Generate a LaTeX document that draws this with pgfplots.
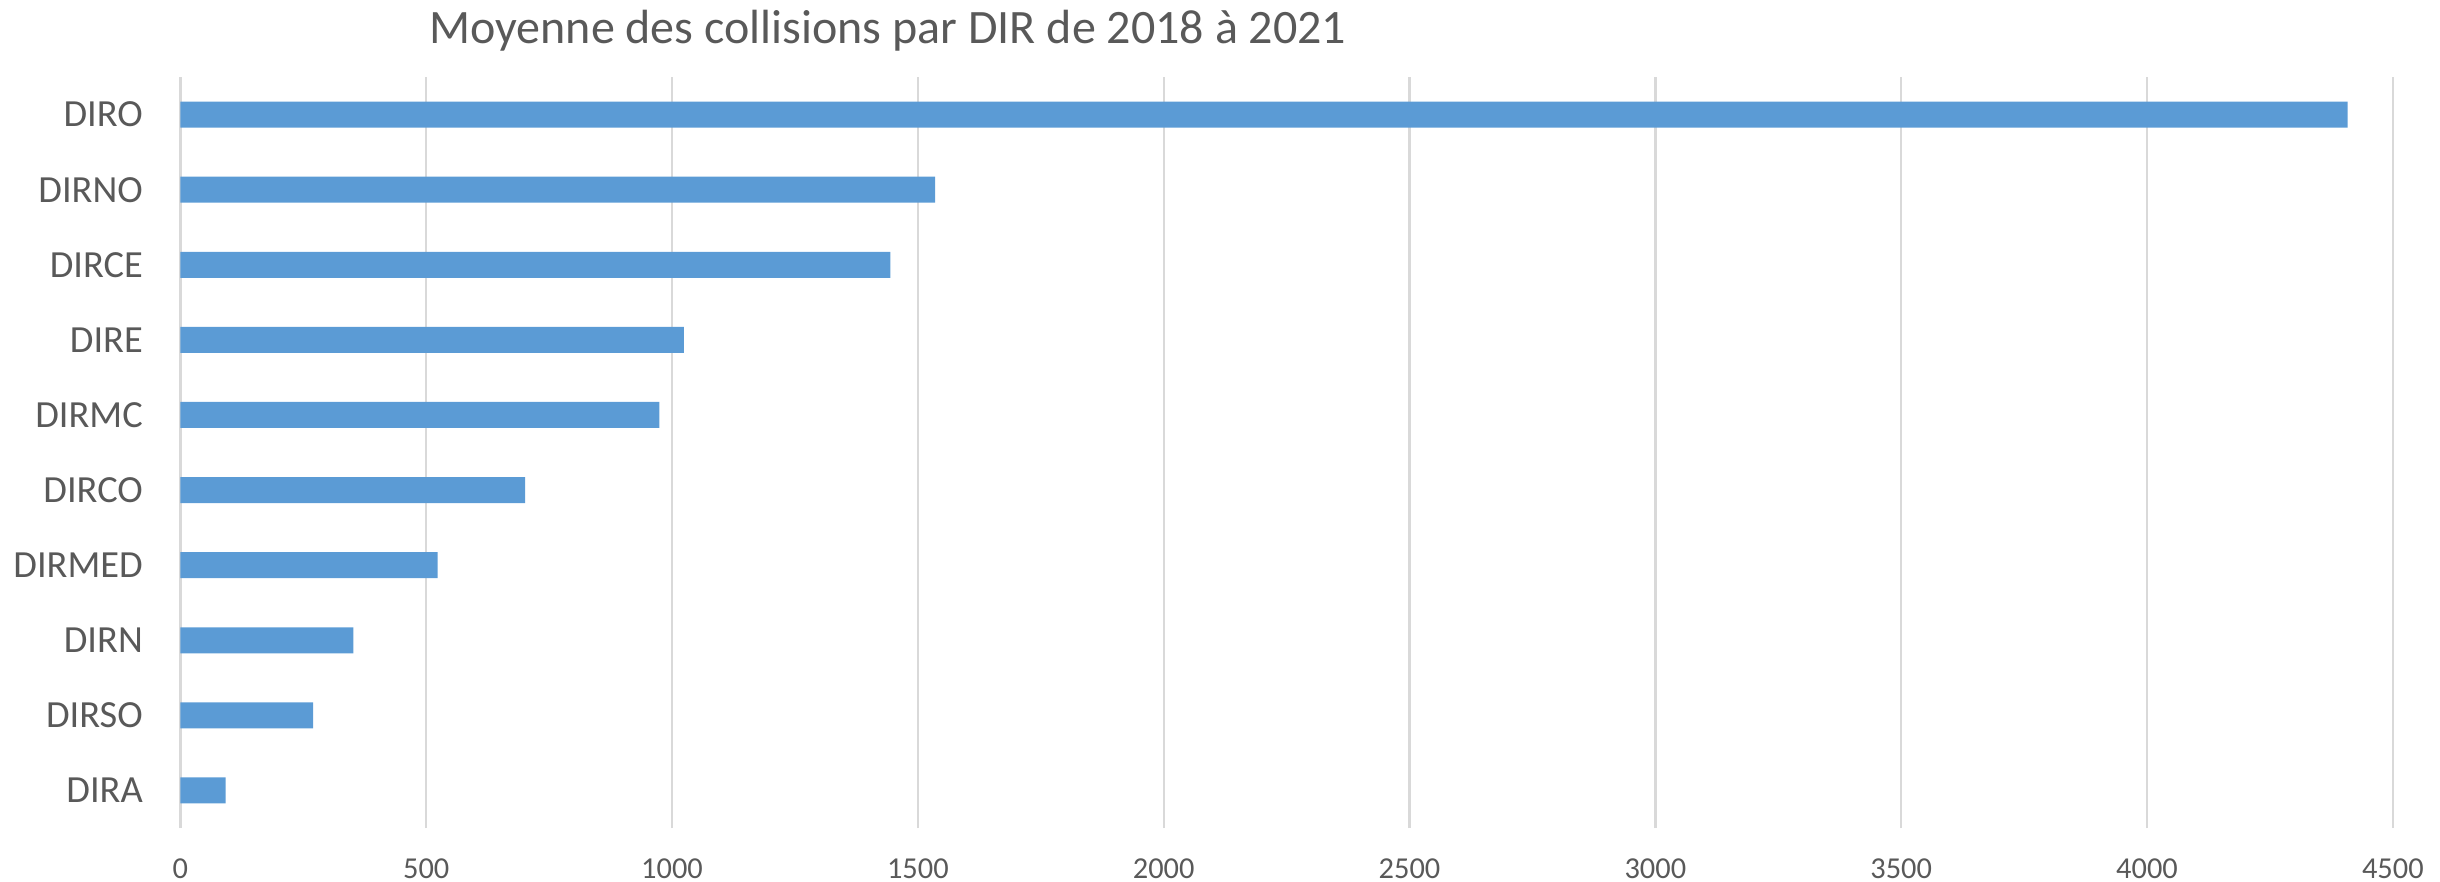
\documentclass[border=0pt]{standalone}
\usepackage{fontspec}
\setmainfont{Carlito}
\usepackage{pgfplots}
\pgfplotsset{compat=1.18}
\definecolor{barblue}{HTML}{5B9BD5}
\definecolor{txtgray}{HTML}{595959}
\definecolor{gridgray}{HTML}{D9D9D9}
\begin{document}
\begin{tikzpicture}
\useasboundingbox (0,0) rectangle (610pt,220.25pt);
\begin{axis}[
  at={(45.1pt,13.25pt)}, anchor=south west,
  scale only axis,
  width=553.1pt, height=187.75pt,
  xbar, bar width=6.5pt,
  xmin=0, xmax=4500,
  ymin=-0.5, ymax=9.5,
  xtick={0,500,...,4500},
  ytick={0,...,9},
  yticklabels={DIRA,DIRSO,DIRN,DIRMED,DIRCO,DIRMC,DIRE,DIRCE,DIRNO,DIRO},
  axis line style={draw=none},
  xmajorgrids, ymajorgrids=false,
  major grid style={draw=gridgray, line width=0.6pt},
  major tick length=0pt,
  /pgf/number format/assume math mode=true,
  /pgf/number format/1000 sep={},
  xticklabel style={font=\fontsize{7.6}{9}\selectfont, text=txtgray, inner sep=0pt, anchor=north, yshift=-7.5pt},
  yticklabel style={font=\fontsize{9.6}{11}\selectfont, text=txtgray, inner sep=0pt, anchor=east, xshift=-9.2pt},
  every axis title shift=0pt,
  title={Moyenne des collisions par DIR de 2018 à 2021},
  title style={at={(0.3198,1)}, anchor=base, yshift=8.5pt, inner sep=0pt, font=\fontsize{12}{14}\selectfont, text=txtgray},
]
\addplot[fill=barblue, draw=none] coordinates {
  (92,0) (270,1) (352,2) (523,3) (701,4) (974,5) (1024,6) (1444,7) (1535,8) (4408,9)
};
\end{axis}
\end{tikzpicture}
\end{document}
